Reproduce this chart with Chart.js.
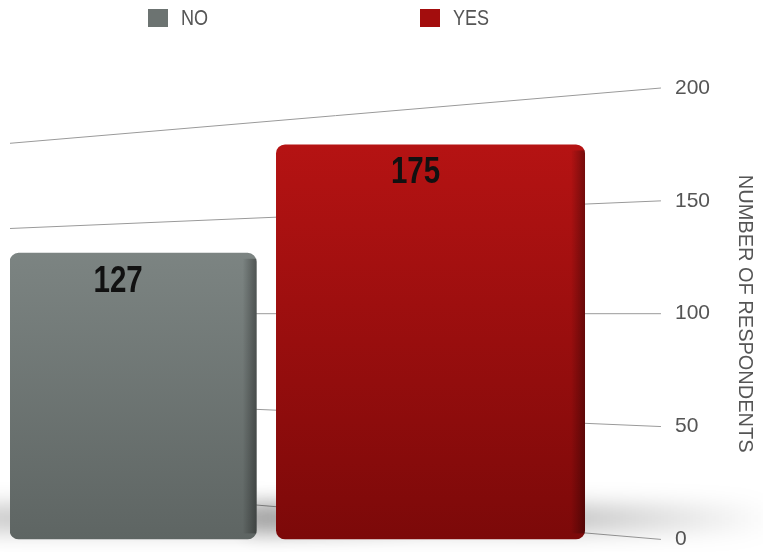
<!DOCTYPE html>
<html>
<head>
<meta charset="utf-8">
<script src="https://cdn.jsdelivr.net/npm/chart.js@4/dist/chart.umd.min.js"></script>
<style>
    html, body { margin: 0; padding: 0; background: #fff; }
    #wrap { position: relative; width: 763px; height: 552px; }
    #respChart { position: absolute; top: 0; left: 0; }
    #legend { position: absolute; top: 0; left: 0; width: 763px; height: 40px; }
    .item { position: absolute; top: 7px; height: 22px; display: flex; align-items: center;
            font-family: "Liberation Sans", Arial, sans-serif; font-size: 22px; color: #555; }
    .item i { display: inline-block; width: 20px; height: 18px; margin-right: 13px; }
    .item span { display: inline-block; transform: scaleX(0.82); transform-origin: left center; }
</style>
</head>
<body>
<div id="wrap">
    <canvas id="respChart" width="763" height="552"></canvas>
    <div id="legend"></div>
</div>
<script>
const CATEGORIES = ["NO", "YES"];
const RESPONDENTS = [127, 175];
const Y_TICKS = [0, 50, 100, 150, 200];
const AXIS_TITLE = "NUMBER OF RESPONDENTS";

const FONT = '"Liberation Sans", Arial, sans-serif';
const COLORS = ["#6c7371", "#a30d0d"];
const TOPS = ["#7c8482", "#b51313"];
const BOTTOMS = ["#5e6563", "#7c0909"];
const WIDTHS = [247, 309];
const LEGEND_X = [148, 420];

// legend drawn as html so the two entries can sit far apart
document.getElementById("legend").innerHTML = CATEGORIES.map((c, i) =>
    `<div class="item" style="left:${LEGEND_X[i]}px"><i style="background:${COLORS[i]}"></i><span>${c}</span></div>`
).join("");

function barFill(i) {
    return (context) => {
        const { chart } = context;
        const area = chart.chartArea;
        if (!area) return COLORS[i];
        const y = chart.scales.y;
        const g = chart.ctx.createLinearGradient(0, y.getPixelForValue(RESPONDENTS[i]), 0, area.bottom);
        g.addColorStop(0, TOPS[i]);
        g.addColorStop(1, BOTTOMS[i]);
        return g;
    };
}

// slanted back-wall lines, converging towards the 100 level
const wallLines = {
    id: "wallLines",
    beforeDatasetsDraw(chart) {
        const { ctx, chartArea } = chart;
        const y = chart.scales.y;
        const horizon = y.getPixelForValue(100);
        ctx.save();
        ctx.strokeStyle = "#9a9a9a";
        ctx.lineWidth = 1;
        Y_TICKS.forEach(v => {
            const yr = y.getPixelForValue(v);
            const yl = yr - 0.245 * (yr - horizon);
            ctx.beginPath();
            ctx.moveTo(chartArea.left, yl);
            ctx.lineTo(y.left - 14, yr);
            ctx.stroke();
        });

        // soft floor shadow, fading out to the right
        chart.data.datasets.forEach((ds, i) => {
            chart.getDatasetMeta(i).data.forEach(bar => {
                const { x, base, width } = bar.getProps(["x", "base", "width"], true);
                const x0 = x - width / 2 - 30;
                const x1 = x + width / 2 + 190;
                const g = ctx.createLinearGradient(x0, 0, x1, 0);
                g.addColorStop(0, "rgba(0,0,0,0.22)");
                g.addColorStop(0.6, "rgba(0,0,0,0.26)");
                g.addColorStop(1, "rgba(0,0,0,0)");
                ctx.filter = "blur(11px)";
                ctx.fillStyle = g;
                ctx.fillRect(x0, base - 34, x1 - x0, 26);
            });
        });
        ctx.restore();
    },
    afterDatasetsDraw(chart) {
        const { ctx } = chart;
        chart.data.datasets.forEach((ds, i) => {
            chart.getDatasetMeta(i).data.forEach((bar, j) => {
                const { x, y, base, width } = bar.getProps(["x", "y", "base", "width"], true);
                ctx.save();
                // darker right edge
                const r = x + width / 2;
                const g = ctx.createLinearGradient(r - 14, 0, r, 0);
                g.addColorStop(0, "rgba(0,0,0,0)");
                g.addColorStop(1, "rgba(0,0,0,0.35)");
                ctx.fillStyle = g;
                ctx.fillRect(r - 14, y + 6, 14, base - y - 12);

                // value label, narrowed
                ctx.translate(x - 15, y + 29);
                ctx.scale(0.82, 1);
                ctx.fillStyle = "#111";
                ctx.font = `bold 36px ${FONT}`;
                ctx.textAlign = "center";
                ctx.textBaseline = "middle";
                ctx.fillText(ds.data[j].y, 0, 0);
                ctx.restore();
            });
        });
    }
};

new Chart(document.getElementById("respChart"), {
    type: "bar",
    data: {
        datasets: CATEGORIES.map((name, i) => ({
            label: name,
            data: [{ x: i, y: RESPONDENTS[i] }],
            backgroundColor: barFill(i),
            borderRadius: 9,
            borderSkipped: false,
            maxBarThickness: WIDTHS[i],
            barPercentage: 1.05,
            categoryPercentage: 1,
            grouped: false
        }))
    },
    options: {
        responsive: false,
        animation: false,
        layout: { padding: { top: 88, bottom: 12, left: 10, right: 0 } },
        plugins: { legend: { display: false }, tooltip: { enabled: false } },
        scales: {
            x: {
                type: "linear",
                display: false,
                offset: false,
                min: -0.414,
                max: 1.822,
                afterBuildTicks: axis => { axis.ticks = CATEGORIES.map((c, i) => ({ value: i })); }
            },
            y: {
                position: "right",
                min: 0,
                max: 200,
                afterBuildTicks: axis => { axis.ticks = Y_TICKS.map(v => ({ value: v })); },
                ticks: { padding: 0, color: "#555", font: { family: FONT, size: 21 } },
                grid: { display: false, drawTicks: false },
                border: { display: false },
                title: {
                    display: true,
                    text: AXIS_TITLE,
                    color: "#555",
                    font: { family: FONT, size: 20 },
                    padding: { top: 6, bottom: 23 }
                }
            }
        }
    },
    plugins: [wallLines]
});
</script>
</body>
</html>
